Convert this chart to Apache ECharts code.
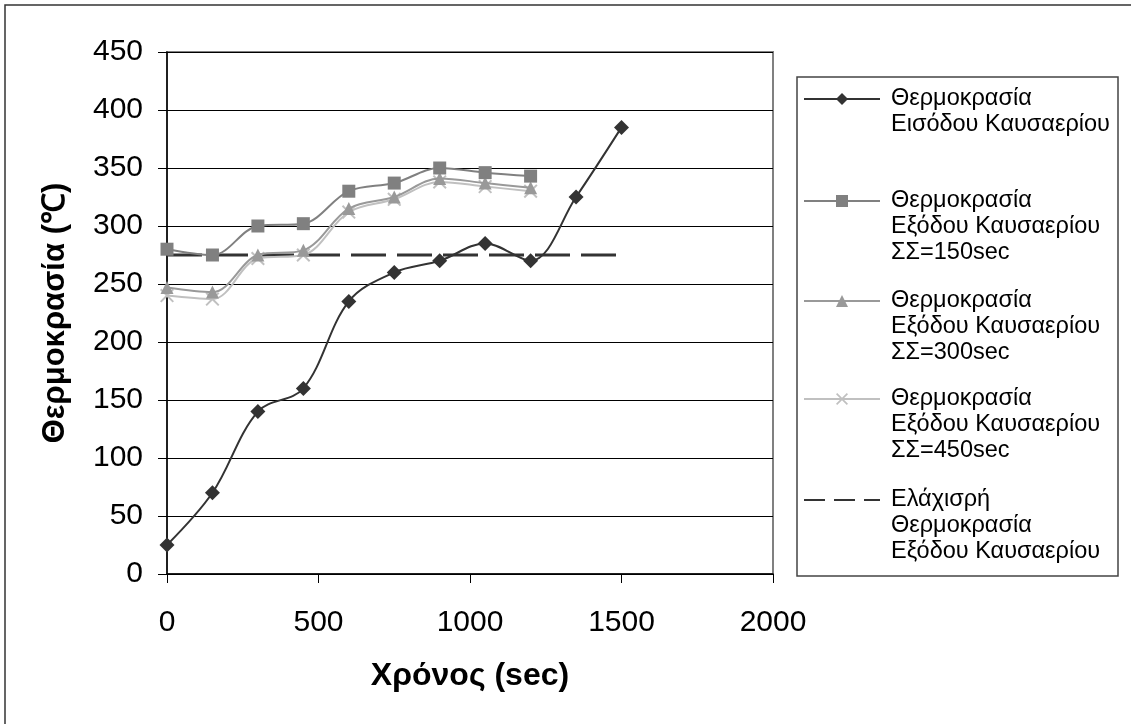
<!DOCTYPE html>
<html>
<head>
<meta charset="utf-8">
<script src="https://cdn.jsdelivr.net/npm/echarts@6/dist/echarts.min.js"></script>
<style>
  html, body { margin: 0; padding: 0; background: #fff; }
  #chart { width: 1131px; height: 724px; }
</style>
</head>
<body>
<div id="chart"></div>
<script>
// χρόνος (sec)
const times = [0, 150, 300, 450, 600, 750, 900, 1050, 1200, 1350, 1500];
// θερμοκρασίες (°C)
const inlet = [25, 70, 140, 160, 235, 260, 270, 285, 270, 325, 385];
const out150 = [280, 275, 300, 302, 330, 337, 350, 346, 343];
const out300 = [247, 243, 275, 279, 315, 325, 341, 337, 333];
const out450 = [240, 237, 272, 275, 312, 323, 338, 334, 330];
const minTimes = [0, 1500];
const minTemp = [275, 275];

const names = [
  'Θερμοκρασία\nΕισόδου Καυσαερίου',
  'Θερμοκρασία\nΕξόδου Καυσαερίου\nΣΣ=150sec',
  'Θερμοκρασία\nΕξόδου Καυσαερίου\nΣΣ=300sec',
  'Θερμοκρασία\nΕξόδου Καυσαερίου\nΣΣ=450sec',
  'Ελάχισρή\nΘερμοκρασία\nΕξόδου Καυσαερίου'
];

const FONT = 'Liberation Sans, Arial, sans-serif';
const LH = 26;
const xMark = 'path://M0,1 L1,0 L5,4 L9,0 L10,1 L6,5 L10,9 L9,10 L5,6 L1,10 L0,9 L4,5 Z';

function pairs(xs, ys) {
  return ys.map(function (v, i) { return [xs[i], v]; });
}

// ένα legend για κάθε σειρά, ώστε το σύμβολο να στέκεται στην πρώτη γραμμή
const legendCenters = [99, 201, 301, 399, 500];
const legends = names.map(function (n, i) {
  const lines = n.split('\n').length;
  const lg = {
    orient: 'vertical',
    left: 803,
    top: legendCenters[i] - (2 * lines - 1) * LH / 2,
    padding: 0,
    itemWidth: 76,
    itemHeight: 15,
    selectedMode: false,
    data: [n],
    formatter: function (name) {
      return '\n'.repeat(name.split('\n').length - 1) + name;
    },
    textStyle: { fontFamily: FONT, fontSize: 23.5, lineHeight: LH, color: '#000', padding: [0, 0, 0, 6] }
  };
  if (i === 4) {
    lg.lineStyle = { type: [21, 9] };
    lg.itemStyle = { opacity: 0 };
  }
  return lg;
});

const chart = echarts.init(document.getElementById('chart'));
chart.setOption({
  animation: false,
  backgroundColor: '#fff',
  graphic: [
    { type: 'rect', shape: { x: 5, y: 5, width: 1140, height: 740 }, style: { fill: 'none', stroke: '#333', lineWidth: 1.5 }, z: -1 },
    { type: 'rect', shape: { x: 797, y: 77, width: 321, height: 499 }, style: { fill: '#fff', stroke: '#444', lineWidth: 1.5 }, z: -1 }
  ],
  grid: {
    left: 167, top: 52, right: 358, bottom: 150,
    show: true, borderColor: '#808080', borderWidth: 2, backgroundColor: 'transparent'
  },
  legend: legends,
  xAxis: {
    type: 'value',
    min: 0, max: 2000, interval: 500,
    name: 'Χρόνος (sec)',
    nameLocation: 'middle',
    nameGap: 86,
    nameTextStyle: { fontFamily: FONT, fontSize: 32, fontWeight: 'bold', color: '#000' },
    axisLine: { lineStyle: { color: '#000', width: 1.5 } },
    axisTick: { show: true, length: 9, lineStyle: { color: '#000' } },
    axisLabel: { fontFamily: FONT, fontSize: 30, color: '#000', margin: 34, formatter: function (v) { return String(v); } },
    splitLine: { show: false }
  },
  yAxis: {
    type: 'value',
    min: 0, max: 450, interval: 50,
    name: 'Θερμοκρασία (℃)',
    nameLocation: 'middle',
    nameGap: 96,
    nameTextStyle: { fontFamily: FONT, fontSize: 31, fontWeight: 'bold', color: '#000' },
    axisLine: { show: true, lineStyle: { color: '#000', width: 1.5 } },
    axisTick: { show: true, length: 9, lineStyle: { color: '#000' } },
    axisLabel: { fontFamily: FONT, fontSize: 30, color: '#000', margin: 24, formatter: function (v) { return String(v); } },
    splitLine: { show: true, lineStyle: { color: '#000', width: 1 } }
  },
  series: [
    {
      name: names[4], type: 'line', data: pairs(minTimes, minTemp),
      symbol: 'none', z: 2,
      lineStyle: { color: '#333', width: 3, type: [35, 11] },
      itemStyle: { color: '#333' }
    },
    {
      name: names[3], type: 'line', data: pairs(times, out450),
      smooth: 0.35, symbol: xMark, symbolSize: 14, z: 3,
      lineStyle: { color: '#c0c0c0', width: 2 },
      itemStyle: { color: '#c0c0c0' }
    },
    {
      name: names[2], type: 'line', data: pairs(times, out300),
      smooth: 0.35, symbol: 'triangle', symbolSize: 13, z: 4,
      lineStyle: { color: '#999', width: 2 },
      itemStyle: { color: '#999' }
    },
    {
      name: names[1], type: 'line', data: pairs(times, out150),
      smooth: 0.35, symbol: 'rect', symbolSize: 13, z: 5,
      lineStyle: { color: '#808080', width: 2 },
      itemStyle: { color: '#808080' }
    },
    {
      name: names[0], type: 'line', data: pairs(times, inlet),
      smooth: 0.35, symbol: 'diamond', symbolSize: 15, z: 6,
      lineStyle: { color: '#333', width: 2 },
      itemStyle: { color: '#333' }
    }
  ]
});
</script>
</body>
</html>
